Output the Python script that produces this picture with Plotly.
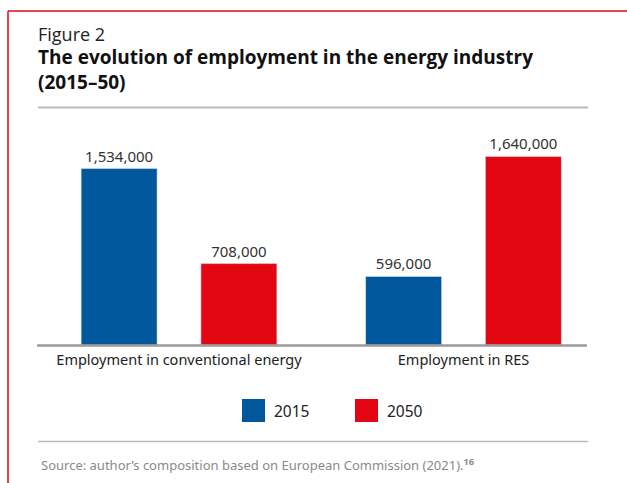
import plotly.graph_objects as go

categories = ["Employment in conventional energy", "Employment in RES"]
series_names = ["2015", "2050"]
values_2015 = [1534000, 596000]
values_2050 = [708000, 1640000]
colors = ["#00579B", "#E30613"]

W, H = 627, 483
def px(x): return x / W
def py(y): return 1 - y / H

fig = go.Figure()
offsets = [-0.344, 0.077]
for name, vals, col, off in zip(series_names, [values_2015, values_2050], colors, offsets):
    fig.add_trace(go.Bar(
        x=[0, 1], y=vals, name=name, marker_color=col, width=0.267, offset=off,
        text=[f"{v:,}" for v in vals], textposition="outside", cliponaxis=False,
        textfont=dict(size=15, color="#333333", family="Noto Sans"),
        showlegend=False, hoverinfo="skip"))

fig.update_layout(
    width=W, height=H, margin=dict(l=0, r=0, t=0, b=0),
    plot_bgcolor="white", paper_bgcolor="white",
    font=dict(family="Noto Sans", color="#333333"),
    xaxis=dict(domain=[px(38), px(588)], range=[(38 - 179) / 284.5, (588 - 179) / 284.5],
               tickvals=[0, 1], ticktext=categories, showgrid=False, zeroline=False,
               showline=False, ticks="", ticklabelstandoff=4,
               tickfont=dict(size=14.5, color="#222222")),
    yaxis=dict(domain=[py(345), py(120)], range=[0, 1956500], visible=False),
    showlegend=False,
    barmode="overlay",
)

shapes = [
    dict(type="line", xref="paper", yref="paper", x0=px(8), x1=1, y0=py(11), y1=py(11),
         line=dict(color="#E30613", width=1.5)),
    dict(type="line", xref="paper", yref="paper", x0=px(8), x1=px(8), y0=py(11), y1=0,
         line=dict(color="#E30613", width=1.5)),
    dict(type="line", xref="paper", yref="paper", x0=px(38), x1=px(588), y0=py(107.5), y1=py(107.5),
         line=dict(color="#BBBBBB", width=2)),
    dict(type="line", xref="paper", yref="paper", x0=px(37), x1=px(587), y0=py(345.5), y1=py(345.5),
         line=dict(color="#9A9A9A", width=2.5)),
    dict(type="line", xref="paper", yref="paper", x0=px(38), x1=px(588), y0=py(441.5), y1=py(441.5),
         line=dict(color="#BBBBBB", width=1.5)),
]

annos = [
    dict(text="Figure 2", x=px(37), y=py(47), xanchor="left", yanchor="bottom", borderpad=0,
         font=dict(size=18, color="#222222", family="Open Sans")),
    dict(text="<b>The evolution of employment in the energy industry<br>(2015–50)</b>",
         x=px(37), y=py(96), xanchor="left", yanchor="bottom", align="left", borderpad=0,
         font=dict(size=19, color="#111111", family="Open Sans")),
    dict(text="Source: author’s composition based on European Commission (2021).<sup><b>16</b></sup>",
         x=px(39), y=py(464), xanchor="left", yanchor="middle",
         font=dict(size=13, color="#8A8A8A")),
]

# manual legend
leg_x = [242, 355]
for name, col, lx in zip(series_names, colors, leg_x):
    shapes.append(dict(type="rect", xref="paper", yref="paper",
                       x0=px(lx), x1=px(lx + 23), y0=py(422), y1=py(399),
                       fillcolor=col, line=dict(width=0)))
    annos.append(dict(text=name, x=px(lx + 30), y=py(411), xanchor="left", yanchor="middle",
                      font=dict(size=15.5, color="#222222")))

for a in annos:
    a.update(xref="paper", yref="paper", showarrow=False)
fig.update_layout(shapes=shapes, annotations=annos)

fig.write_html("out.html", config={"displayModeBar": False},
               post_script="document.body.style.margin='0';")
